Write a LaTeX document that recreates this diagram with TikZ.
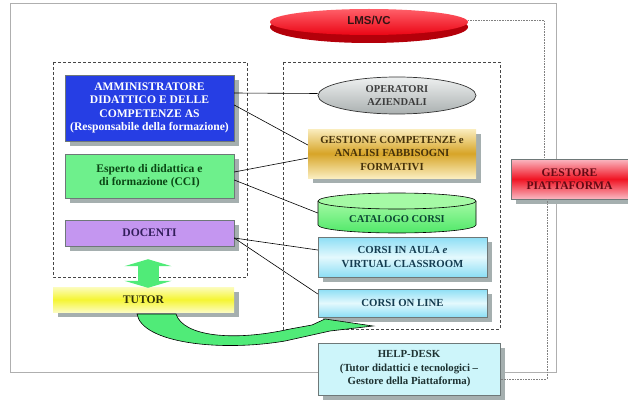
\documentclass[tikz,border=0pt]{standalone}
\usepackage{fontspec}
\setmainfont{Liberation Serif}
\newfontfamily\lmsfont{Liberation Sans}
\usetikzlibrary{shadows,calc,shapes.geometric,arrows.meta}
\definecolor{admblue}{RGB}{38,62,228}
\definecolor{espgreen}{RGB}{110,240,140}
\definecolor{doclav}{RGB}{196,150,240}
\definecolor{tutyel}{RGB}{245,245,50}
\definecolor{tutlight}{RGB}{252,252,190}
\definecolor{shadowgray}{RGB}{165,175,175}
\definecolor{goldmid}{RGB}{215,165,40}
\definecolor{goldlight}{RGB}{250,237,190}
\definecolor{cyanmid}{RGB}{140,222,245}
\definecolor{cyanlight}{RGB}{228,249,253}
\definecolor{hdcyan}{RGB}{205,245,250}
\definecolor{gestred}{RGB}{240,20,35}
\definecolor{gestpink}{RGB}{250,185,195}
\definecolor{catgreen}{RGB}{80,232,105}
\definecolor{catlight}{RGB}{165,250,165}
\definecolor{arrgreen}{RGB}{80,235,120}
\definecolor{framegray}{RGB}{175,175,175}
\definecolor{dashgray}{RGB}{70,70,70}
\definecolor{opertop}{RGB}{238,240,240}
\definecolor{operbot}{RGB}{170,176,176}
\definecolor{lmsdark}{RGB}{180,0,10}
\definecolor{lmstop}{RGB}{255,95,105}
\definecolor{lmsred}{RGB}{235,5,20}
\definecolor{bordergray}{RGB}{110,120,120}
\tikzset{
  shadowed/.style={drop shadow={shadow xshift=5pt, shadow yshift=-5pt, fill=shadowgray, opacity=1}},
  boxnode/.style={rectangle, inner sep=0pt, align=center, font=\bfseries\fontsize{10.8}{13.5}\selectfont, shadowed},
  bigfont/.style={font=\bfseries\fontsize{11.6}{13.5}\selectfont},
  conn/.style={black, line width=0.6pt},
  dashbox/.style={dashgray, line width=0.9pt, dash pattern=on 3pt off 2pt},
  dotline/.style={gray, line width=0.6pt, densely dotted},
}
\begin{document}
\begin{tikzpicture}[x=1pt,y=-1pt]
\useasboundingbox (0,0) rectangle (628,401);
% outer frame
\draw[framegray, line width=1pt] (10,4) rectangle (556,372);
% dashed groups
\draw[dashbox] (53,62) rectangle (247,277);
\draw[dashbox] (283,62) rectangle (500,329);

% LMS/VC disc
\fill[lmsdark] (369,27) ellipse [x radius=99, y radius=16];
\shade[top color=lmstop, bottom color=lmsred] (369,22) ellipse [x radius=99, y radius=13];
\node[ellipse, minimum width=198pt, minimum height=28pt, inner sep=0pt,
      font=\lmsfont\bfseries\fontsize{11.5}{13}\selectfont, text={rgb,255:red,50;green,20;blue,20}] (lms) at (369,20) {LMS/VC};

% left column
\node[boxnode, bigfont, fill=admblue, draw=bordergray, text=white,
      minimum width=169pt, minimum height=66pt] (adm) at (149.5,108)
  {AMMINISTRATORE\\DIDATTICO E DELLE\\COMPETENZE AS\\(Responsabile della formazione)};
\node[boxnode, bigfont, fill=espgreen, draw=bordergray, text={rgb,255:red,10;green,70;blue,20},
      minimum width=169pt, minimum height=44pt] (esp) at (149.5,176)
  {Esperto di didattica e\\di formazione (CCI)};
\node[boxnode, bigfont, fill=doclav, draw=bordergray, text={rgb,255:red,50;green,30;blue,90},
      minimum width=169pt, minimum height=26pt] (doc) at (149.5,233) {DOCENTI};
\node[boxnode, bigfont, top color=tutlight, bottom color=tutlight, middle color=tutyel,
      text={rgb,255:red,50;green,50;blue,10},
      minimum width=181pt, minimum height=25pt] (tut) at (143.5,299.5) {TUTOR};

% green double arrow
\draw[arrgreen, line width=21pt, {Triangle[width=47pt,length=7pt]}-{Triangle[width=47pt,length=7pt]}]
  ([xshift=-1.5pt,yshift=-13pt]doc.south) -- ([xshift=4.5pt,yshift=-1pt]tut.north);

% right column
\node[ellipse, inner sep=0pt, draw={rgb,255:red,50;green,50;blue,50}, line width=0.7pt,
      top color=opertop, bottom color=operbot, align=center,
      font=\bfseries\fontsize{10.5}{13.5}\selectfont, text={rgb,255:red,60;green,60;blue,60},
      minimum width=158pt, minimum height=37pt] (oper) at (397,95.5) {OPERATORI\\AZIENDALI};
\node[boxnode, top color=goldlight, bottom color=goldlight, middle color=goldmid,
      text={rgb,255:red,70;green,50;blue,10},
      minimum width=168pt, minimum height=49pt] (gest) at (392,153.5)
  {GESTIONE COMPETENZE e\\ANALISI FABBISOGNI\\FORMATIVI};

% catalogo cylinder
\shade[top color=catlight, bottom color=catgreen] (318,201) -- (318,225)
  arc[start angle=180, end angle=0, x radius=79, y radius=8] -- (476,201) -- cycle;
\draw[black, line width=0.6pt] (318,201) -- (318,225)
  arc[start angle=180, end angle=0, x radius=79, y radius=8] -- (476,201);
\filldraw[fill=catlight, draw=black, line width=0.6pt] (397,201) ellipse [x radius=79, y radius=8];
\node[rectangle, inner sep=0pt, font=\bfseries\fontsize{10.5}{13.5}\selectfont,
      text={rgb,255:red,10;green,70;blue,50},
      minimum width=158pt, minimum height=28pt] (cat) at (397,219) {CATALOGO CORSI};

\node[boxnode, top color=cyanmid, bottom color=cyanmid, middle color=cyanlight, draw=bordergray,
      text={rgb,255:red,20;green,60;blue,80},
      minimum width=169pt, minimum height=40pt] (aula) at (402.5,257)
  {CORSI IN AULA \textit{e}\\VIRTUAL CLASSROOM};
\node[boxnode, top color=cyanmid, bottom color=cyanmid, middle color=cyanlight, draw=bordergray,
      text={rgb,255:red,20;green,60;blue,80},
      minimum width=169pt, minimum height=28pt] (online) at (402.5,303) {CORSI ON LINE};

\node[boxnode, fill=hdcyan, draw=bordergray,
      text={rgb,255:red,30;green,50;blue,50},
      minimum width=182pt, minimum height=52pt] (help) at (409,369)
  {HELP-DESK\\(Tutor didattici e tecnologici --\\Gestore della Piattaforma)};

\node[boxnode, bigfont, top color=gestpink, bottom color=gestpink, middle color=gestred, draw=bordergray,
      text={rgb,255:red,100;green,10;blue,20},
      minimum width=117pt, minimum height=40pt] (gestore) at (569.5,179)
  {GESTORE\\PIATTAFORMA};

% dotted links
\draw[dotline] (lms.east) -| ([xshift=-25.5pt]gestore.north);
\draw[dotline] ([xshift=-22.5pt]gestore.south) |- ([yshift=-10pt]help.east);

% connectors
\draw[conn] ([yshift=15pt]adm.east) -- ([yshift=2pt]oper.west);
\draw[conn] ([yshift=3pt]adm.east) -- ([yshift=8.5pt]gest.west);
\draw[conn] ([yshift=4pt]esp.east) -- ([yshift=-4.5pt]gest.west);
\draw[conn] ([yshift=-4pt]esp.east) -- ([yshift=6pt]cat.west);
\draw[conn] ([yshift=-5pt]doc.east) -- ([yshift=7pt]aula.west);
\draw[conn] ([yshift=-5pt]doc.east) -- ([yshift=9pt]online.west);

% big curved arrow
\filldraw[fill=arrgreen, draw=black, line width=0.6pt]
  (137,314) .. controls (142,343) and (220,352) .. (285,341)
  -- (330,331) -- (373,326) -- (325,319) -- (312,325) -- (290,329)
  .. controls (232,342) and (183,336) .. (176,314) -- cycle;
\end{tikzpicture}
\end{document}
